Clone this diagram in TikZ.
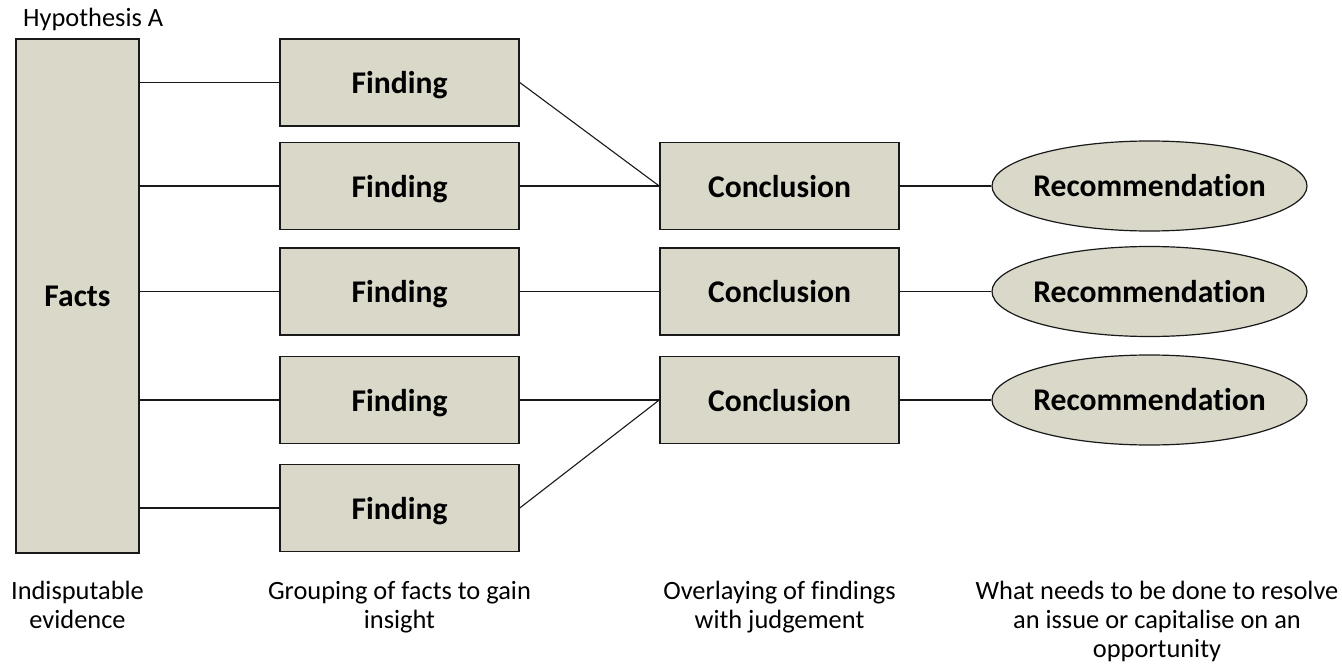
\documentclass[tikz,border=0pt]{standalone}
\usepackage{fontspec}
\setmainfont{Carlito}[Ligatures={NoCommon}]
\usepackage{xcolor}
\usepackage{tikz}
\usetikzlibrary{shapes.geometric}

\definecolor{boxfill}{RGB}{217,216,201}
\newcommand{\boldlab}{\bfseries\fontsize{31.6}{38}\selectfont}
\newcommand{\plainlab}{\fontsize{26.4}{29}\selectfont}

\begin{document}
\begin{tikzpicture}[
    x=1pt,
    y=-1pt,
    box/.style={draw=black!90, line width=1.5pt, fill=boxfill,
        minimum width=239pt, minimum height=87pt, text depth=0pt,
        inner sep=0pt, font=\boldlab},
    recbox/.style={ellipse, draw=black!90, line width=1.2pt, fill=boxfill,
        minimum width=315pt, minimum height=90pt, inner sep=0pt,
        label={[font=\boldlab]center:#1}},
    link/.style={line width=1.1pt, black!90},
    caption/.style={align=center, anchor=north, inner sep=0pt, font=\plainlab}
]
\useasboundingbox (0,0) rectangle (1342,666);

% Title
\node[anchor=base west, inner sep=0pt, font=\plainlab] (hyp) at (23,27) {Hypothesis A};

% Facts column
\node[box, minimum width=123pt, minimum height=514pt] (facts) at (77.5,296) {Facts};

% Findings
\foreach \y [count=\i] in {82.5,186,291.5,400,508} {
    \node[box] (find\i) at (399.5,\y) {Finding};
    \draw[link] (facts.east |- find\i.west) -- (find\i.west);
}

% Conclusions and recommendations
\foreach \y [count=\i] in {186,291.5,400} {
    \node[box] (conc\i) at (779.5,\y) {Conclusion};
    \node[recbox=Recommendation] (rec\i) at (1149.5,\y) {};
    \draw[link] (conc\i.east) -- (rec\i.west);
}

\draw[link] (find1.east) -- (conc1.west);
\draw[link] (find2.east) -- (conc1.west);
\draw[link] (find3.east) -- (conc2.west);
\draw[link] (find4.east) -- (conc3.west);
\draw[link] (find5.east) -- (conc3.west);

% Captions
\node[caption] (capfacts) at (77.5,581) {Indisputable\\evidence};
\node[caption] (capfind) at (399.5,581) {Grouping of facts to gain\\insight};
\node[caption] (capconc) at (779.5,581) {Overlaying of findings\\with judgement};
\node[caption] (caprec) at (1157,581)
    {What needs to be done to resolve\\an issue or capitalise on an\\opportunity};

\end{tikzpicture}
\end{document}
